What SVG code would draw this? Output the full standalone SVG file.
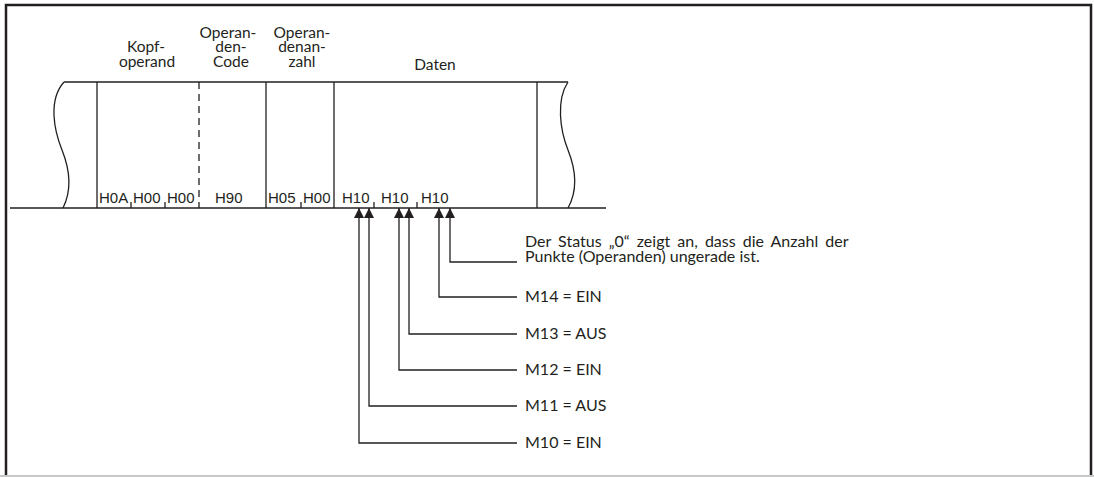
<svg xmlns="http://www.w3.org/2000/svg" width="1094" height="477" viewBox="0 0 1094 477">
<defs>
<style>
.frame{fill:none;stroke:#231f20;stroke-width:2.5}
.ln{fill:none;stroke:#231f20;stroke-width:1.3}
.dash{fill:none;stroke:#231f20;stroke-width:1.3;stroke-dasharray:7,5}
.hd{font-family:Lato,"Open Sans",sans-serif;font-size:15.5px;fill:#231f20;text-anchor:middle}
.bt{font-family:"Liberation Sans",Arial,sans-serif;font-size:15px;fill:#231f20}
.lb{font-family:Lato,"Open Sans",sans-serif;font-size:16px;fill:#231f20}
</style>
<marker id="ah" viewBox="0 0 10 10" refX="10" refY="5" markerWidth="10" markerHeight="10" markerUnits="userSpaceOnUse" orient="auto">
<path d="M0,0 L10,5 L0,10 Z" fill="#231f20"/>
</marker>
</defs>
<rect width="1094" height="477" fill="#fff"/>
<g id="frame">
<path class="frame" d="M6,477 V5 H1091 V477"/>
<line x1="0" y1="476" x2="1094" y2="476" stroke="#c8c8c8" stroke-width="2"/>
</g>
<g id="band">
<path class="ln" d="M64,82 H568"/>
<path class="ln" d="M10,208 H606"/>
<path class="ln" d="M64,82 C48,100 54,130 62,150 C70,170 72,190 63,208"/>
<path class="ln" d="M568,82 C556,100 560,130 568,150 C576,170 578,190 568,208"/>
<path class="ln" d="M97,82 V208 M266,82 V208 M334,82 V208 M537,82 V208"/>
<path class="dash" d="M199,82 V208"/>
<path class="ln" d="M131,202 V208 M165,202 V208 M301,202 V208 M374,202 V208 M417,202 V208"/>
</g>
<g id="headers">
<text class="hd" x="146" y="52">Kopf-</text>
<text class="hd" x="147" y="67">operand</text>
<text class="hd" x="228" y="38">Operan-</text>
<text class="hd" x="231" y="52">den-</text>
<text class="hd" x="231" y="67">Code</text>
<text class="hd" x="302" y="38">Operan-</text>
<text class="hd" x="302" y="52">denan-</text>
<text class="hd" x="302" y="67">zahl</text>
<text class="hd" x="435" y="70">Daten</text>
</g>
<g id="values">
<text class="bt" x="99" y="203">H0A</text>
<text class="bt" x="133" y="203">H00</text>
<text class="bt" x="167" y="203">H00</text>
<text class="bt" x="215" y="203">H90</text>
<text class="bt" x="268" y="203">H05</text>
<text class="bt" x="303" y="203">H00</text>
<text class="bt" x="342" y="203">H10</text>
<text class="bt" x="381" y="203">H10</text>
<text class="bt" x="421" y="203">H10</text>
</g>
<g id="connectors">
<path class="ln" marker-end="url(#ah)" d="M517,262 H450 V208"/>
<path class="ln" marker-end="url(#ah)" d="M517,297 H439 V208"/>
<path class="ln" marker-end="url(#ah)" d="M517,334 H409 V208"/>
<path class="ln" marker-end="url(#ah)" d="M517,370 H399 V208"/>
<path class="ln" marker-end="url(#ah)" d="M517,406 H369 V208"/>
<path class="ln" marker-end="url(#ah)" d="M517,443 H359 V208"/>
</g>
<g id="labels">
<text class="lb" x="525" y="247" word-spacing="3">Der Status „0“ zeigt an, dass die Anzahl der</text>
<text class="lb" x="525" y="262">Punkte (Operanden) ungerade ist.</text>
<text class="lb" x="525" y="302">M14 = EIN</text>
<text class="lb" x="525" y="339">M13 = AUS</text>
<text class="lb" x="525" y="375">M12 = EIN</text>
<text class="lb" x="525" y="411">M11 = AUS</text>
<text class="lb" x="525" y="448">M10 = EIN</text>
</g>
</svg>
